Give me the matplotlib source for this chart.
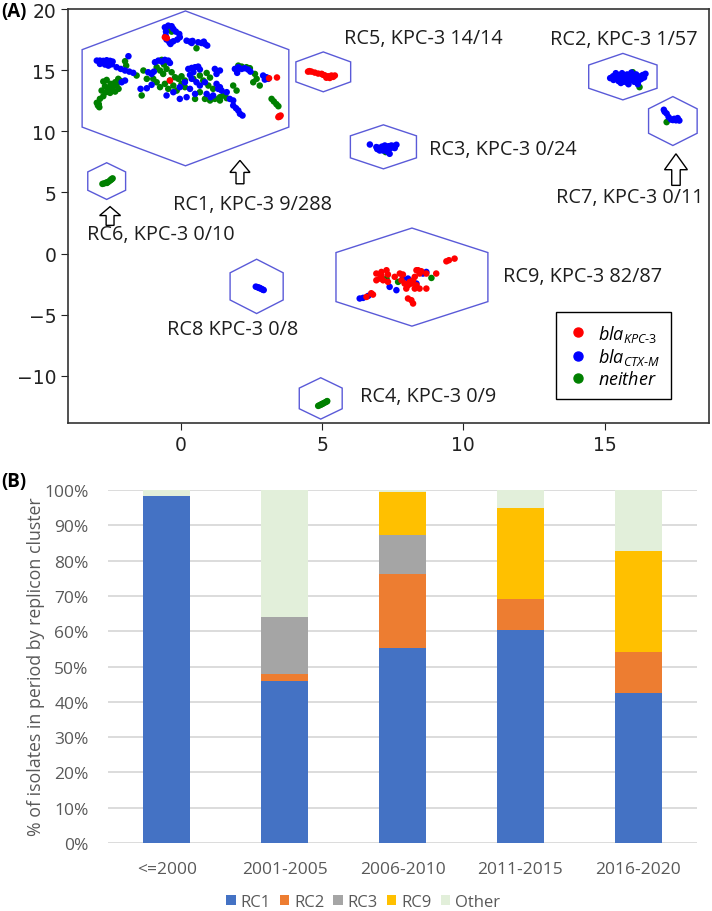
import matplotlib
matplotlib.use('Agg')
import matplotlib.pyplot as plt
from matplotlib.patches import Polygon, FancyArrow, Patch
from matplotlib.lines import Line2D
import numpy as np

plt.rcParams['mathtext.fontset'] = 'custom'
plt.rcParams['mathtext.it'] = 'Open Sans:italic'
plt.rcParams['mathtext.rm'] = 'Open Sans'

# ---------------- Panel A data (UMAP-like coordinates) ----------------
rc1_ctx = [(-0.57,18.50),(-0.45,18.64),(-0.33,18.59),(-0.27,18.37),(-0.18,18.15),(-0.06,17.96),
           (-0.04,17.69),(-0.13,17.50),(-0.27,17.36),(-0.41,17.28),(-0.51,17.50),(-0.54,17.82),
           (-0.53,18.15),(-0.37,17.14),(0.20,17.41),(0.32,17.33),(0.41,17.39),(0.38,17.22),
           (0.61,17.28),(0.73,17.22),(0.85,17.14),(0.93,17.01),(0.81,17.33),
           (-2.98,15.78),(-2.87,15.78),(-2.75,15.76),(-2.63,15.81),(-2.51,15.76),(-2.42,15.70),
           (-2.87,15.51),(-2.69,15.46),(-2.57,15.37),(-2.45,15.48),(-1.86,16.14),
           (-2.28,15.24),(-2.13,15.10),(-1.98,14.97),(-1.83,14.88),(-1.69,14.78),
           (-1.43,13.47),(-1.21,13.52),(-1.04,13.80),(-2.10,14.01),(-1.98,14.15),
           (-0.92,15.65),(-0.80,15.78),(-0.68,15.70),(-0.57,15.84),(-0.45,15.78),(-0.39,15.59),
           (-1.16,14.83),(-1.04,14.69),(-0.96,14.88),
           (0.26,15.10),(0.38,15.18),(0.50,15.24),(0.61,15.29),(0.67,15.05),(0.44,14.83),(0.32,14.61),
           (1.20,15.10),(1.38,14.97),(1.26,14.69),
           (1.91,15.10),(2.03,15.24),(2.15,15.10),(2.26,15.16),(2.38,15.05),(2.46,14.88),(1.99,14.78),
           (2.91,14.56),(3.03,14.42),(2.97,14.23),(3.09,14.29),
           (2.09,11.43),(2.18,11.29),(2.03,11.70),(1.85,12.11),(1.95,11.89),
           (1.26,13.88),(1.38,13.61),(1.44,13.33),(1.32,13.47),(1.14,12.93),
           (-0.51,12.93),(-0.27,13.20),(-0.04,13.61),(0.14,14.01),(0.32,13.47),(0.50,13.06),
           (0.67,13.74),(0.85,14.01),(-0.04,12.65),(0.20,12.79),(0.38,14.29),(0.55,14.01),
           (0.91,13.06),(1.05,12.79),(1.73,12.65),(1.85,12.52),(1.62,13.20)]
rc1_nei = [(-2.98,12.33),(-2.94,12.11),(-2.89,11.97),(-2.91,12.22),
           (-2.75,14.07),(-2.63,14.20),(-2.49,13.88),(-2.39,13.69),(-2.28,13.80),(-2.21,13.47),
           (-2.33,13.25),(-2.45,13.36),(-2.57,13.52),(-2.69,13.69),(-2.81,13.33),(-2.14,14.12),
           (-2.51,13.14),(-2.33,14.01),(-2.65,13.20),(-2.22,14.29),(-2.87,12.65),(-2.75,12.87),
           (-1.98,15.73),(-1.94,15.37),(-1.57,14.56),(-1.39,12.93),(-1.21,14.29),(-1.33,14.97),
           (-0.86,15.24),(-0.74,14.97),(-0.63,14.69),(-0.68,15.84),(-0.60,15.46),(-0.51,15.10),
           (-0.33,14.83),(-0.21,14.42),(-0.09,14.29),(0.02,14.50),(0.14,14.15),(-0.39,14.15),
           (-0.57,13.88),(-0.86,14.01),(-0.98,14.29),(-0.74,13.61),(-0.45,13.47),(-0.27,13.74),
           (0.02,13.88),(0.14,13.61),(-0.15,13.33),(0.55,16.79),(-0.39,18.31),(-0.33,18.15),
           (0.44,14.29),(0.67,14.56),(0.91,14.77),(1.03,14.39),(0.79,14.15),(0.97,13.74),
           (1.14,13.47),(0.67,13.20),(0.50,12.65),(0.85,12.65),(1.03,12.52),(1.20,12.65),
           (1.38,12.79),(1.50,12.93),(1.62,12.71),(1.38,12.52),
           (2.03,15.37),(2.15,15.29),(2.32,15.24),(2.44,15.16),
           (2.62,14.69),(2.68,14.29),(2.56,14.01),(2.79,13.74),(1.85,13.74),(1.97,13.33),
           (3.21,12.65),(3.29,12.44),(3.38,12.22),(3.45,12.05)]
rc1_kpc = [(-0.57,17.69),(-0.50,17.62),(3.12,14.34),(3.40,14.40),(3.48,11.24),(3.53,11.29),
           (3.45,11.16),(3.50,11.20),(-0.39,14.15)]
rc5_kpc = [(4.50,14.88),(4.55,14.92),(4.62,14.88),(4.74,14.80),(4.86,14.72),(4.98,14.70),
           (5.03,14.62),(5.09,14.58),(5.21,14.50),(5.33,14.56),(5.45,14.56),(5.15,14.38),
           (5.27,14.36),(5.39,14.45)]
rc2_ctx = [(15.20,14.35),(15.30,14.50),(15.32,14.20),(15.42,14.40),(15.45,14.62),(15.50,14.10),
           (15.55,14.30),(15.60,14.50),(15.62,14.75),(15.68,14.05),(15.70,14.25),(15.75,14.45),
           (15.80,14.65),(15.82,13.95),(15.88,14.15),(15.90,14.35),(15.95,14.55),(16.00,14.25),
           (16.05,14.05),(16.08,14.45),(16.12,14.65),(16.15,14.30),(16.20,14.10),(16.25,14.48),
           (16.30,14.28),(16.35,14.60),(16.40,14.40),(16.45,14.70),(15.85,13.85),(15.58,13.95),
           (16.18,13.85),(15.95,14.80),(15.40,14.75)]
rc2_nei = [(16.00,14.83),(16.24,13.61)]
rc7_ctx = [(17.10,11.76),(17.13,11.60),(17.20,11.45),(17.27,11.16),(17.36,10.96),(17.47,11.02),
           (17.59,11.08),(17.65,10.88),(17.53,10.90),(17.42,10.92)]
rc7_nei = [(17.20,10.75)]
rc3_ctx = [(6.69,8.92),(6.92,8.71),(7.00,8.65),(7.10,8.57),(7.16,8.43),(7.04,8.43),(7.22,8.84),
           (7.28,8.71),(7.35,8.78),(7.45,8.84),(7.52,8.80),(7.63,8.90),(7.57,8.63),(7.39,8.16),
           (7.30,8.35),(7.20,8.60),(7.40,8.60),(6.95,8.55),(7.12,8.75),(7.50,8.70)]
rc3_nei = [(7.25,8.30)]
rc6_nei = [(-2.78,5.70),(-2.72,5.74),(-2.65,5.80),(-2.60,5.84),(-2.55,5.90),(-2.50,6.00),
           (-2.45,6.10),(-2.42,6.15),(-2.62,5.78),(-2.47,6.05)]
rc8_ctx = [(2.65,-2.70),(2.70,-2.74),(2.75,-2.78),(2.80,-2.84),(2.85,-2.88),(2.90,-2.95),
           (2.93,-2.98),(2.78,-2.80)]
rc4_nei = [(4.86,-12.45),(4.91,-12.40),(4.96,-12.34),(5.01,-12.28),(5.06,-12.22),(5.11,-12.16),
           (5.16,-12.10),(5.18,-12.06),(4.99,-12.31)]
rc9_kpc = [(6.92,-1.63),(7.10,-1.50),(7.28,-1.36),(7.33,-1.71),(7.04,-2.04),(7.16,-2.18),
           (7.33,-2.31),(7.57,-1.90),(7.75,-1.63),(7.86,-1.71),(7.81,-2.18),(7.92,-2.45),
           (8.04,-2.59),(8.16,-2.45),(8.22,-2.18),(8.28,-1.90),(8.40,-1.36),(8.51,-1.44),
           (8.69,-1.63),(9.04,-1.63),(8.16,-3.81),(8.22,-4.08),(8.04,-3.67),(8.34,-2.59),
           (8.28,-2.86),(7.98,-2.86),(8.10,-2.31),(8.45,-2.86),(8.69,-2.86),(9.40,-0.63),
           (9.49,-0.54),(9.69,-0.41),(8.45,-1.63),(8.34,-1.36),(6.92,-2.18),(7.10,-1.77),
           (6.74,-3.24),(6.80,-3.35),(6.57,-3.54)]
rc9_ctx = [(6.33,-3.67),(6.45,-3.62),(6.63,-3.46),(7.39,-2.72),(7.63,-2.99),(7.86,-2.04),
           (8.04,-2.04),(8.34,-2.45),(8.57,-1.63),(8.69,-1.50)]
rc9_nei = [(7.28,-2.04),(7.69,-2.31),(8.87,-1.99)]

kpc_pts = rc1_kpc + rc5_kpc + rc9_kpc
ctx_pts = rc1_ctx + rc2_ctx + rc7_ctx + rc3_ctx + rc8_ctx + rc9_ctx
nei_pts = rc1_nei + rc2_nei + rc7_nei + rc3_nei + rc6_nei + rc4_nei + rc9_nei

# cluster outlines (center x, center y, half width, half height)
hex_cx = [0.16, 5.04, 15.65, 17.42, 7.17, -2.63, 2.68, 8.18, 4.95]
hex_cy = [13.51, 14.86, 14.47, 10.84, 8.73, 5.93, -2.68, -1.92, -11.84]
hex_hw = [3.66, 0.97, 1.21, 0.86, 1.17, 0.67, 0.94, 2.69, 0.76]
hex_hh = [6.33, 1.63, 1.90, 2.00, 1.80, 1.50, 2.22, 4.01, 1.69]

label_text = ["RC1, KPC-3 9/288", "RC5, KPC-3 14/14", "RC2, KPC-3 1/57", "RC3, KPC-3 0/24",
              "RC7, KPC-3 0/11", "RC6, KPC-3 0/10", "RC8 KPC-3 0/8", "RC9, KPC-3 82/87",
              "RC4, KPC-3 0/9"]
label_x = [-0.28, 5.78, 13.08, 8.78, 13.29, -3.34, -0.51, 11.40, 6.33]
label_y = [4.08, 17.63, 17.55, 8.53, 4.65, 1.59, -6.19, -1.84, -11.63]

arrow_x = [2.09, -2.51, 17.53]
arrow_base = [5.71, 2.31, 5.58]
arrow_tip = [7.62, 3.84, 8.16]

# ---------------- Panel B data ----------------
periods = ["<=2000", "2001-2005", "2006-2010", "2011-2015", "2016-2020"]
rc1 = [98.3, 46.0, 55.3, 60.4, 42.5]
rc2 = [0.0, 2.0, 21.0, 8.6, 11.5]
rc3 = [0.0, 16.0, 11.0, 0.0, 0.0]
rc9 = [0.0, 0.0, 12.0, 25.9, 28.7]
other = [1.7, 36.0, 0.7, 5.1, 17.3]
series_names = ["RC1", "RC2", "RC3", "RC9", "Other"]
series_colors = ["#4472C4", "#ED7D31", "#A5A5A5", "#FFC000", "#E2EFDA"]

# ---------------- Figure ----------------
fig = plt.figure(figsize=(7.12, 9.12), dpi=100)

axA = fig.add_axes([68/712, (912-424)/912, 641/712, 414/912])
for pts, col, z in [(nei_pts, 'green', 3), (ctx_pts, 'blue', 4), (kpc_pts, 'red', 5)]:
    xs = [p[0] for p in pts]
    ys = [p[1] for p in pts]
    axA.scatter(xs, ys, s=22, c=col, edgecolors='none', zorder=z)

for cx, cy, hw, hh in zip(hex_cx, hex_cy, hex_hw, hex_hh):
    verts = [(cx, cy+hh), (cx+hw, cy+hh/2), (cx+hw, cy-hh/2), (cx, cy-hh),
             (cx-hw, cy-hh/2), (cx-hw, cy+hh/2)]
    axA.add_patch(Polygon(verts, closed=True, fill=False, edgecolor='#5a5ad8', lw=1.0, zorder=2))

for t, x, y in zip(label_text, label_x, label_y):
    axA.text(x, y, t, ha='left', va='center', fontsize=14.3, family='Open Sans', color='#1e1e1e')

arrow_dims = [(0.28, 0.71, 0.98), (0.28, 0.74, 0.73), (0.30, 0.81, 1.3)]
for x, b, t, (w, hw, hl) in zip(arrow_x, arrow_base, arrow_tip, arrow_dims):
    axA.add_patch(FancyArrow(x, b, 0, t-b, width=w, head_width=hw, head_length=hl,
                             length_includes_head=True, facecolor='white', edgecolor='black',
                             lw=1.0, zorder=6))

axA.set_xlim(-4.0, 18.7)
axA.set_ylim(-13.85, 20)
axA.set_xticks([0, 5, 10, 15])
axA.set_yticks([-10, -5, 0, 5, 10, 15, 20])
axA.tick_params(labelsize=13.5, colors='#222222', length=5)
for s in axA.spines.values():
    s.set_color('#333333')
    s.set_linewidth(1.2)

leg_handles = [Line2D([], [], marker='o', ls='none', color=c, markersize=6.5) for c in ['red', 'blue', 'green']]
leg_labels = [r'$\mathit{bla}_{\mathit{KPC}\text{-}\mathit{3}}$',
              r'$\mathit{bla}_{\mathit{CTX}\text{-}\mathit{M}}$',
              r'$\mathit{neither}$']
leg = axA.legend(leg_handles, leg_labels, loc='lower left', bbox_to_anchor=(0.762, 0.058),
                 borderaxespad=0, fancybox=False, edgecolor='black', framealpha=1,
                 prop={'size': 13}, handletextpad=0.5, borderpad=0.6, labelspacing=0.15,
                 handlelength=1.2)
leg.get_frame().set_linewidth(1.0)

fig.text(14/712, 1-12/912, "(A)", fontsize=13.5, fontweight='bold', ha='center', va='center',
         family='Open Sans')

# Panel B
axB = fig.add_axes([108/712, (912-844)/912, 589/712, 353/912])
xpos = np.arange(len(periods))
bottom = np.zeros(len(periods))
for name, vals, col in zip(series_names, [rc1, rc2, rc3, rc9, other], series_colors):
    axB.bar(xpos, vals, width=0.4, bottom=bottom, color=col, label=name, zorder=3)
    bottom = bottom + np.array(vals)

axB.set_xlim(-0.5, 4.5)
axB.set_ylim(0, 100)
axB.set_yticks(np.arange(0, 101, 10))
axB.set_yticklabels([f"{v}%" for v in range(0, 101, 10)])
axB.set_xticks(xpos)
axB.set_xticklabels(periods)
axB.grid(axis='y', color='#d9d9d9', lw=1.3, zorder=0)
for s in axB.spines.values():
    s.set_visible(False)
axB.tick_params(length=0, labelsize=12.5, colors='#595959')
axB.tick_params(axis='x', pad=13)
axB.tick_params(axis='y', pad=14)
for lab in axB.get_xticklabels() + axB.get_yticklabels():
    lab.set_family('Open Sans')

fig.text(36/712, (912-667)/912, "% of isolates in period by replicon cluster", rotation=90,
         ha='center', va='center', fontsize=12.8, color='#595959', family='Open Sans')
fig.text(14/712, 1-482/912, "(B)", fontsize=13.5, fontweight='bold', ha='center', va='center',
         family='Open Sans')

handles = [Patch(facecolor=c, edgecolor='none') for c in series_colors]
fig.legend(handles, series_names, loc='center', bbox_to_anchor=(0.51, 9/912), ncol=5,
           frameon=False, handlelength=0.55, handleheight=0.55, handletextpad=0.3,
           columnspacing=0.55, prop={'family': 'Open Sans', 'size': 12}, labelcolor='#595959')

fig.savefig('out.png', dpi=100)
